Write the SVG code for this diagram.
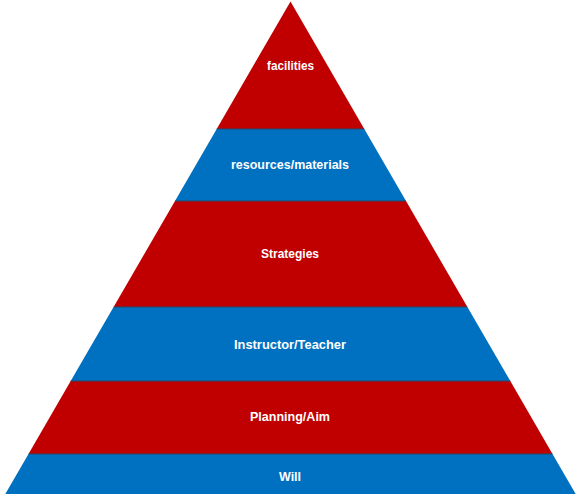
<svg xmlns="http://www.w3.org/2000/svg" width="581" height="494" viewBox="0 0 581 494">
<style>
.red{fill:#C00000}
.blue{fill:#0070C0}
.lbl{font-family:"Liberation Sans",Arial,sans-serif;font-weight:bold;font-size:12.5px;fill:#FFFFFF;text-anchor:middle}
.div{stroke:#24496e;stroke-width:1;fill:none}
</style>
<rect width="581" height="494" fill="#FFFFFF"/>
<g id="facilities">
<polygon class="red" points="290.5,1.5 364.3,129 216.7,129"/>
<text class="lbl" x="290.5" y="69.7" textLength="47" lengthAdjust="spacingAndGlyphs">facilities</text>
</g>
<g id="resources">
<polygon class="blue" points="216.7,129 364.3,129 406,201 175,201"/>
<text class="lbl" x="290" y="169.3" textLength="118" lengthAdjust="spacingAndGlyphs">resources/materials</text>
</g>
<g id="strategies">
<polygon class="red" points="175,201 406,201 467.4,307 113.6,307"/>
<text class="lbl" x="290" y="258" textLength="58" lengthAdjust="spacingAndGlyphs">Strategies</text>
</g>
<g id="instructor">
<polygon class="blue" points="113.6,307 467.4,307 510.3,381 70.7,381"/>
<text class="lbl" x="290" y="349.3" textLength="112" lengthAdjust="spacingAndGlyphs">Instructor/Teacher</text>
</g>
<g id="planning">
<polygon class="red" points="70.7,381 510.3,381 552.5,454 28.5,454"/>
<text class="lbl" x="290" y="421.3" textLength="80" lengthAdjust="spacingAndGlyphs">Planning/Aim</text>
</g>
<g id="will">
<polygon class="blue" points="28.5,454 552.5,454 575.7,494 5.3,494"/>
<text class="lbl" x="290" y="481" textLength="22" lengthAdjust="spacingAndGlyphs">Will</text>
</g>
<g id="connectors">
<line class="div" x1="216.7" y1="129" x2="364.3" y2="129"/>
<line class="div" x1="175" y1="201" x2="406" y2="201"/>
<line class="div" x1="113.6" y1="307" x2="467.4" y2="307"/>
<line class="div" x1="70.7" y1="381" x2="510.3" y2="381"/>
<line class="div" x1="28.5" y1="454" x2="552.5" y2="454"/>
</g>
</svg>
